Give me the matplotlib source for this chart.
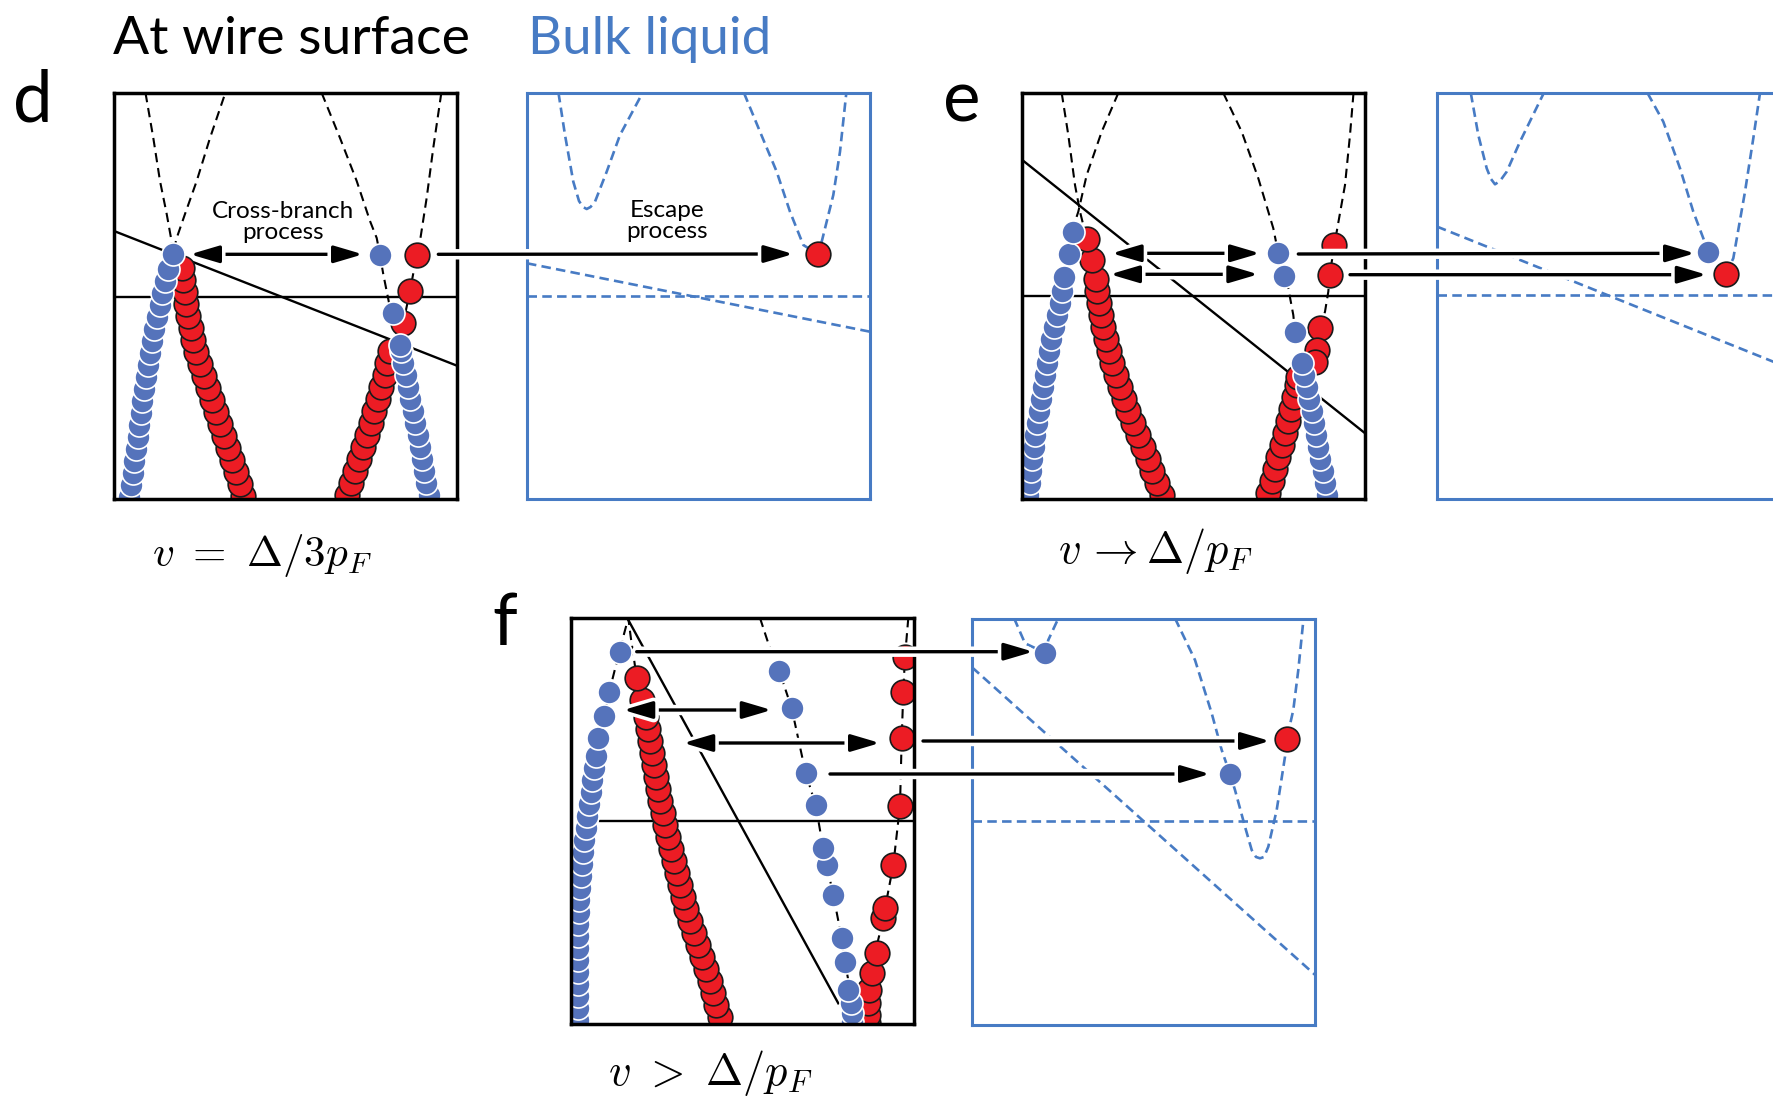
import matplotlib
matplotlib.use("Agg")
import matplotlib.pyplot as plt
from matplotlib import patheffects as pe
from matplotlib.patches import ConnectionPatch

plt.rcParams["font.family"] = ["Lato", "DejaVu Sans"]
plt.rcParams["mathtext.fontset"] = "cm"

FIG_W, FIG_H = 1774, 1109      # output size in pixels
BOX_W, BOX_H = 343, 406        # every panel frame uses the same local units

BOX_BLUE = "#477bc4"
DOT_BLUE = "#5573bb"
DOT_RED = "#ec1c24"

# ---------------- panel d : v = Delta/3pF ----------------
# wire surface (dashed dispersion branches, solid reference lines)
d_sw_dash_a_x = [31.5, 39.3, 46, 52.7, 57, 58.7, 62.7, 71, 82.7, 96, 111.3]
d_sw_dash_a_y = [406, 361, 318, 285, 261, 245, 261, 285, 318, 361, 406]
d_sw_dash_b_x = [207.7, 226, 242.7, 256, 262.7, 266, 269.3, 276, 278.7, 283, 286]
d_sw_dash_b_y = [406, 361, 318, 278, 261, 244, 224.7, 191.3, 185.7, 165, 153]
d_sw_dash_c_x = [327.3, 319.3, 312.7, 306, 302.7, 296, 289.3, 286]
d_sw_dash_c_y = [406, 351.3, 301.3, 258, 244, 208, 176.3, 153]
d_sw_tilt_x = [0, 343]
d_sw_tilt_y = [268, 133.3]
d_sw_level = 202

d_sw_blue_l_x = [15.5, 17, 18.7, 20.3, 22, 23.6, 25.2, 26.8, 28.5, 30.2, 32, 34, 36, 38.2, 40.5, 43, 45.6, 48.4, 51.3, 54.5, 58.7]
d_sw_blue_l_y = [2, 14, 26, 38, 50, 62, 74, 86, 98, 110, 122, 134, 146, 158, 170, 182, 194, 206, 218, 230, 244.7]
d_sw_red_l_x = [129.5, 126, 122, 118, 114, 110, 106, 102, 98, 94.5, 90.5, 86, 82.5, 79.5, 76.8, 74.5, 72.5, 70.8, 69.2, 67.7]
d_sw_red_l_y = [3, 15, 27, 39, 51, 63, 75, 87, 99, 111, 123, 135, 147, 159, 171, 183, 195, 207, 219, 231]
d_sw_red_r_x = [232.5, 236.5, 240.5, 244.5, 248.5, 252.5, 256.5, 260, 263.5, 267, 270.5, 273, 275.5]
d_sw_red_r_y = [4, 16, 28, 40, 52, 64, 76, 88, 100, 112, 124, 136, 148]
d_sw_blue_r_x = [314.5, 312.3, 310, 308, 306, 303.5, 301, 298.5, 296, 293.8, 291.5, 289, 286.6, 285.5]
d_sw_blue_r_y = [4, 16, 28, 40, 52, 64, 76, 88, 100, 112, 124, 136, 148, 154]
d_sw_blue_x = [266, 278.7]
d_sw_blue_y = [244, 185.7]
d_sw_red_x = [302.7, 296, 289.3]
d_sw_red_y = [244, 208, 176.3]

# bulk liquid
d_bl_dash_a_x = [31.5, 38, 46.3, 52, 56, 59.7, 63.5, 68, 79.7, 93, 115.5]
d_bl_dash_a_y = [406, 364, 317.3, 298, 292, 290, 292, 297.3, 327.3, 364, 406]
d_bl_dash_b_x = [217, 233, 249.7, 263, 276.3, 290.7, 294.7, 306.3, 313, 319.3]
d_bl_dash_b_y = [406, 367.3, 327.3, 287.3, 254, 245, 257.3, 304, 347.3, 406]
d_bl_tilt_x = [0, 343]
d_bl_tilt_y = [235.7, 167.3]
d_bl_level = 203
d_bl_red_x = [290.7]
d_bl_red_y = [245]

# ---------------- panel e : v -> Delta/pF ----------------
e_sw_dash_a_x = [39.7, 46.3, 53, 58, 61.3, 64.7]
e_sw_dash_a_y = [406, 364, 314, 287.3, 274, 260]
e_sw_dash_b_x = [96.3, 79.7, 64.7, 56.3, 53, 51.3]
e_sw_dash_b_y = [406, 367.3, 324, 287.3, 277.3, 267.3]
e_sw_dash_c_x = [201.3, 219.7, 236.3, 251.3, 256.3, 262.3, 266.3, 271.3, 273]
e_sw_dash_c_y = [406, 367.3, 320.7, 270.7, 245.7, 223.3, 210.7, 184, 167.3]
e_sw_dash_d_x = [331.5, 328, 323, 314.7, 312.3, 307.7, 306.3, 303, 298]
e_sw_dash_d_y = [406, 364, 314, 267.3, 254, 224, 207.3, 187.3, 170.7]
e_sw_tilt_x = [0, 343]
e_sw_tilt_y = [339.2, 65.8]
e_sw_level = 203

e_sw_blue_l_x = [6.3, 8.3, 9.5, 10.5, 12, 13.5, 15.5, 17.2, 19, 21, 23, 25.5, 27.5, 29.5, 32.5, 35, 38, 40, 42.3, 47, 51.3]
e_sw_blue_l_y = [4, 16, 28, 40, 52, 64, 76, 88, 100, 112, 124, 136, 148, 160, 172, 184, 196, 208, 222, 245, 267]
e_sw_red_l_x = [139.7, 135.3, 130.5, 126, 121.5, 116.3, 111.5, 106.5, 102, 98, 94, 90.5, 87.5, 84.5, 81.5, 79, 77, 75.5, 74, 70.3, 64.7]
e_sw_red_l_y = [4, 16, 28, 40, 52, 64, 76, 88, 100, 112, 124, 136, 148, 160, 172, 184, 196, 208, 220, 239, 260]
e_sw_blue_r_x = [304.7, 302.7, 300.7, 298.5, 296.3, 294, 291.8, 289.6, 287.3, 285, 282.3, 279.7]
e_sw_blue_r_y = [4, 16, 28, 40, 52, 64, 76, 88, 100, 112, 124, 136]
e_sw_red_r_x = [246, 250, 253, 256.5, 260, 263, 266, 269, 272, 275, 276.5]
e_sw_red_r_y = [6, 18, 30, 42, 54, 66, 78, 90, 102, 114, 122]
e_sw_blue_x = [256.3, 262.3, 273]
e_sw_blue_y = [245.7, 223.3, 167.3]
e_sw_red_x = [312.3, 307.7, 298, 294.7, 293]
e_sw_red_y = [254, 224, 170.7, 149, 137.3]

e_bl_dash_a_x = [33.8, 41.3, 49.7, 54, 58, 63, 69.7, 83, 106.8]
e_bl_dash_a_y = [406, 364, 330.7, 320, 314.7, 318, 327.3, 357.3, 406]
e_bl_dash_b_x = [210.5, 226.3, 243, 256.3, 266.3, 271.3]
e_bl_dash_b_y = [406, 377.3, 330.7, 287.3, 260.7, 247.3]
e_bl_dash_c_x = [288.7, 296.3, 308, 316.3, 323]
e_bl_dash_c_y = [224.7, 240.7, 307.3, 360.7, 406]
e_bl_tilt_x = [0, 343]
e_bl_tilt_y = [272.4, 134.6]
e_bl_level = 204
e_bl_blue_x = [271.3]
e_bl_blue_y = [247.3]
e_bl_red_x = [288.7]
e_bl_red_y = [224.7]

# ---------------- panel f : v > Delta/pF ----------------
f_sw_dash_a_x = [27.3, 33.3, 38.3, 44, 49, 53, 57.3, 60, 63, 65.7]
f_sw_dash_a_y = [285.7, 308, 332.3, 355, 372.3, 390, 406, 385, 365, 345.7]
f_sw_dash_b_x = [189, 197.3, 208.3, 220.7, 234.7, 244.7, 252.3, 255.7, 262.3, 270.7, 274, 279, 280.7]
f_sw_dash_b_y = [406, 380.7, 353, 315.7, 250.7, 219, 174.7, 159, 129, 85.7, 62.3, 34, 4]
f_sw_dash_c_x = [337.3, 334, 332.3, 330.7, 329, 322.3, 314, 312.3, 304, 299, 295.7, 297.3]
f_sw_dash_c_y = [406, 367.3, 332.3, 285.7, 218.3, 159, 115.7, 105.7, 70.7, 49, 30.7, 4]
f_sw_tilt_x = [57.3, 267.3]
f_sw_tilt_y = [404, 20.7]
f_sw_level_x = [29, 343]
f_sw_level = 203

f_sw_blue_l_x = [7.3, 7.3, 7.2, 7, 6.8, 6.7, 6.8, 7, 7.3, 7.8, 8.5, 9.2, 10, 10.7, 12, 13.5, 15, 16.5, 18, 19.8, 21.5, 23, 24.8, 27.3]
f_sw_blue_l_y = [4, 16, 28, 40, 52, 64, 76, 88, 100, 112, 124, 136, 148, 160, 172, 184, 196, 208, 220, 232, 244, 256, 268, 286]
f_sw_red_l_x = [149, 145.5, 142, 138.8, 134.8, 130.7, 127, 123.2, 119.5, 115.5, 112, 109, 106.2, 103.2, 100.2, 97.2,
                94.2, 91.7, 89.3, 87, 85.3, 83.5, 81.5, 79.2, 77.3, 74.8, 70.7, 65.7]
f_sw_red_l_y = [7, 19, 31, 43, 55, 67, 79, 91, 103, 115, 127, 139, 151, 163, 175, 187,
                199, 211, 223, 235, 247, 259, 271, 283, 295, 307, 324, 346]
f_sw_blue_m_x = [281.3, 280.7, 280, 277.3, 274, 270.7, 262.3, 255.7, 252.3, 244.7, 234.7, 220.7, 208.3]
f_sw_blue_m_y = [2.3, 10.7, 20.7, 34, 62.3, 85.7, 129, 159, 175.7, 219, 250.7, 315.7, 353]
f_sw_red_r_x = [297.3, 297.3, 297.3, 298, 300.7, 305.7, 312.3, 314, 322.3, 329, 330.7, 332.3, 334]
f_sw_red_r_y = [0.7, 9, 20.7, 34, 50.7, 70.7, 105.7, 115.7, 159, 218.3, 285.7, 332.3, 367.3]
f_sw_blue_x = [33.3, 38.3, 49]
f_sw_blue_y = [308, 332.3, 372.3]

f_bl_dash_a_x = [42, 53, 73, 76.3, 86.5]
f_bl_dash_a_y = [407, 381.7, 372.3, 385, 407]
f_bl_dash_b_x = [203, 223, 239.7, 249.7, 258, 263, 273, 279.7, 284, 288, 292, 296.3, 304.7, 313, 314.7, 321.3, 326.3, 331.5]
f_bl_dash_b_y = [406.7, 365, 311.7, 275, 251, 235, 198.3, 175, 168, 166.7, 168, 178.3, 215, 268.3, 285.7, 315, 355, 406]
f_bl_tilt_x = [0, 343]
f_bl_tilt_y = [357.7, 50.2]
f_bl_level = 204
f_bl_blue_x = [73, 258]
f_bl_blue_y = [372.3, 251]
f_bl_red_x = [314.7]
f_bl_red_y = [285.7]


def make_panel(fig, left_px, bottom_px, color, lw):
    ax = fig.add_axes([left_px / FIG_W, 1 - bottom_px / FIG_H, BOX_W / FIG_W, BOX_H / FIG_H])
    ax.set_xlim(0, BOX_W)
    ax.set_ylim(0, BOX_H)
    ax.set_xticks([])
    ax.set_yticks([])
    ax.patch.set_alpha(0)
    for s in ax.spines.values():
        s.set_color(color)
        s.set_linewidth(lw)
    return ax


def dash_black(ax, x, y):
    ax.plot(x, y, color="black", lw=1.5, ls=(0, (4.5, 2.8)), zorder=1.5)


def dash_blue(ax, x, y):
    ax.plot(x, y, color=BOX_BLUE, lw=1.9, ls=(0, (3.6, 2.0)), zorder=1.5)


def beads(ax, x, y, kind):
    if kind == "blue":
        ax.scatter(x, y, s=275, c=DOT_BLUE, edgecolors="white", linewidths=1.2, zorder=2.2)
    else:
        ax.scatter(x, y, s=315, c=DOT_RED, edgecolors="#1a1a1a", linewidths=1.2, zorder=2.1)


def arrow(fig, ax_a, pa, ax_b, pb, both=False):
    style = "<|-|>" if both else "-|>"
    con = ConnectionPatch(xyA=pa, coordsA=ax_a.transData, xyB=pb, coordsB=ax_b.transData,
                          arrowstyle=f"{style},head_length=0.44,head_width=0.13",
                          mutation_scale=40, lw=2.4, color="black",
                          shrinkA=0, shrinkB=0, zorder=5)
    con.set_path_effects([pe.Stroke(linewidth=7.5, foreground="white"), pe.Normal()])
    fig.add_artist(con)


fig = plt.figure(figsize=(FIG_W / 100, FIG_H / 100), dpi=100)

# ---- d
ax_d1 = make_panel(fig, 114, 499, "black", 2.5)
ax_d2 = make_panel(fig, 527, 499, BOX_BLUE, 2.2)
dash_black(ax_d1, d_sw_dash_a_x, d_sw_dash_a_y)
dash_black(ax_d1, d_sw_dash_b_x, d_sw_dash_b_y)
dash_black(ax_d1, d_sw_dash_c_x, d_sw_dash_c_y)
ax_d1.plot(d_sw_tilt_x, d_sw_tilt_y, color="black", lw=1.7, zorder=1.6)
ax_d1.axhline(d_sw_level, color="black", lw=1.7, zorder=1.6)
beads(ax_d1, d_sw_red_l_x, d_sw_red_l_y, "red")
beads(ax_d1, d_sw_red_r_x, d_sw_red_r_y, "red")
beads(ax_d1, d_sw_red_x, d_sw_red_y, "red")
beads(ax_d1, d_sw_blue_l_x, d_sw_blue_l_y, "blue")
beads(ax_d1, d_sw_blue_r_x, d_sw_blue_r_y, "blue")
beads(ax_d1, d_sw_blue_x, d_sw_blue_y, "blue")
ax_d1.text(169, 277, "Cross-branch\nprocess", ha="center", va="center", fontsize=17.5,
           linespacing=0.95, zorder=4)

dash_blue(ax_d2, d_bl_dash_a_x, d_bl_dash_a_y)
dash_blue(ax_d2, d_bl_dash_b_x, d_bl_dash_b_y)
dash_blue(ax_d2, d_bl_tilt_x, d_bl_tilt_y)
ax_d2.axhline(d_bl_level, color=BOX_BLUE, lw=1.9, ls=(0, (3.6, 2.0)), zorder=1.5)
beads(ax_d2, d_bl_red_x, d_bl_red_y, "red")
ax_d2.text(140, 278, "Escape\nprocess", ha="center", va="center", fontsize=17.5,
           linespacing=0.95, zorder=4)

arrow(fig, ax_d1, (76, 244.7), ax_d1, (249, 244.7), both=True)
arrow(fig, ax_d1, (324.3, 244.7), ax_d2, (266.3, 245))

# ---- e
ax_e1 = make_panel(fig, 1022, 499, "black", 2.5)
ax_e2 = make_panel(fig, 1437, 499, BOX_BLUE, 2.2)
dash_black(ax_e1, e_sw_dash_a_x, e_sw_dash_a_y)
dash_black(ax_e1, e_sw_dash_b_x, e_sw_dash_b_y)
dash_black(ax_e1, e_sw_dash_c_x, e_sw_dash_c_y)
dash_black(ax_e1, e_sw_dash_d_x, e_sw_dash_d_y)
ax_e1.plot(e_sw_tilt_x, e_sw_tilt_y, color="black", lw=1.7, zorder=1.6)
ax_e1.axhline(e_sw_level, color="black", lw=1.7, zorder=1.6)
beads(ax_e1, e_sw_red_l_x, e_sw_red_l_y, "red")
beads(ax_e1, e_sw_red_r_x, e_sw_red_r_y, "red")
beads(ax_e1, e_sw_red_x, e_sw_red_y, "red")
beads(ax_e1, e_sw_blue_l_x, e_sw_blue_l_y, "blue")
beads(ax_e1, e_sw_blue_r_x, e_sw_blue_r_y, "blue")
beads(ax_e1, e_sw_blue_x, e_sw_blue_y, "blue")

dash_blue(ax_e2, e_bl_dash_a_x, e_bl_dash_a_y)
dash_blue(ax_e2, e_bl_dash_b_x, e_bl_dash_b_y)
dash_blue(ax_e2, e_bl_dash_c_x, e_bl_dash_c_y)
dash_blue(ax_e2, e_bl_tilt_x, e_bl_tilt_y)
ax_e2.axhline(e_bl_level, color=BOX_BLUE, lw=1.9, ls=(0, (3.6, 2.0)), zorder=1.5)
beads(ax_e2, e_bl_red_x, e_bl_red_y, "red")
beads(ax_e2, e_bl_blue_x, e_bl_blue_y, "blue")

arrow(fig, ax_e1, (89.7, 245.7), ax_e1, (238, 245.7), both=True)
arrow(fig, ax_e1, (88, 224.7), ax_e1, (236.3, 224.7), both=True)
arrow(fig, ax_e1, (276.3, 245), ax_e2, (258, 245.7))
arrow(fig, ax_e1, (328, 224.3), ax_e2, (269.7, 224.3))

# ---- f
ax_f1 = make_panel(fig, 571, 1024, "black", 2.5)
ax_f2 = make_panel(fig, 972, 1025, BOX_BLUE, 2.2)
dash_black(ax_f1, f_sw_dash_a_x, f_sw_dash_a_y)
dash_black(ax_f1, f_sw_dash_b_x, f_sw_dash_b_y)
dash_black(ax_f1, f_sw_dash_c_x, f_sw_dash_c_y)
ax_f1.plot(f_sw_tilt_x, f_sw_tilt_y, color="black", lw=1.7, zorder=1.6)
ax_f1.plot(f_sw_level_x, [f_sw_level] * 2, color="black", lw=1.7, zorder=1.6)
beads(ax_f1, f_sw_red_l_x, f_sw_red_l_y, "red")
beads(ax_f1, f_sw_red_r_x, f_sw_red_r_y, "red")
beads(ax_f1, f_sw_blue_l_x, f_sw_blue_l_y, "blue")
beads(ax_f1, f_sw_blue_m_x, f_sw_blue_m_y, "blue")
beads(ax_f1, f_sw_blue_x, f_sw_blue_y, "blue")

dash_blue(ax_f2, f_bl_dash_a_x, f_bl_dash_a_y)
dash_blue(ax_f2, f_bl_dash_b_x, f_bl_dash_b_y)
dash_blue(ax_f2, f_bl_tilt_x, f_bl_tilt_y)
ax_f2.axhline(f_bl_level, color=BOX_BLUE, lw=1.9, ls=(0, (3.6, 2.0)), zorder=1.5)
beads(ax_f2, f_bl_red_x, f_bl_red_y, "red")
beads(ax_f2, f_bl_blue_x, f_bl_blue_y, "blue")

arrow(fig, ax_f1, (65.7, 372.3), ax_f2, (61.3, 373.3))
arrow(fig, ax_f1, (52.3, 314), ax_f1, (200.7, 314), both=True)
arrow(fig, ax_f1, (112.3, 281), ax_f1, (309, 281), both=True)
arrow(fig, ax_f1, (352, 283), ax_f2, (298, 284))
arrow(fig, ax_f1, (259, 250), ax_f2, (238, 251))

# ---- titles and labels (figure pixel positions)
def fig_text(x_px, y_px, s, **kw):
    fig.text(x_px / FIG_W, 1 - y_px / FIG_H, s, va="baseline", ha="left", **kw)

fig_text(113, 54, "At wire surface", fontsize=38.5)
fig_text(528, 54, "Bulk liquid", fontsize=38, color=BOX_BLUE)
fig_text(13, 121, "d", fontsize=51)
fig_text(943, 121, "e", fontsize=51)
fig_text(492, 645, "f", fontsize=51)
fig_text(152, 566, r"$v\ =\ \Delta/3p_F$", fontsize=31)
fig_text(1058, 563, r"$v\, \rightarrow \Delta/p_F$", fontsize=32)
fig_text(608, 1085, r"$v\ >\ \Delta/p_F$", fontsize=32)

fig.savefig("out.png", dpi=100)
